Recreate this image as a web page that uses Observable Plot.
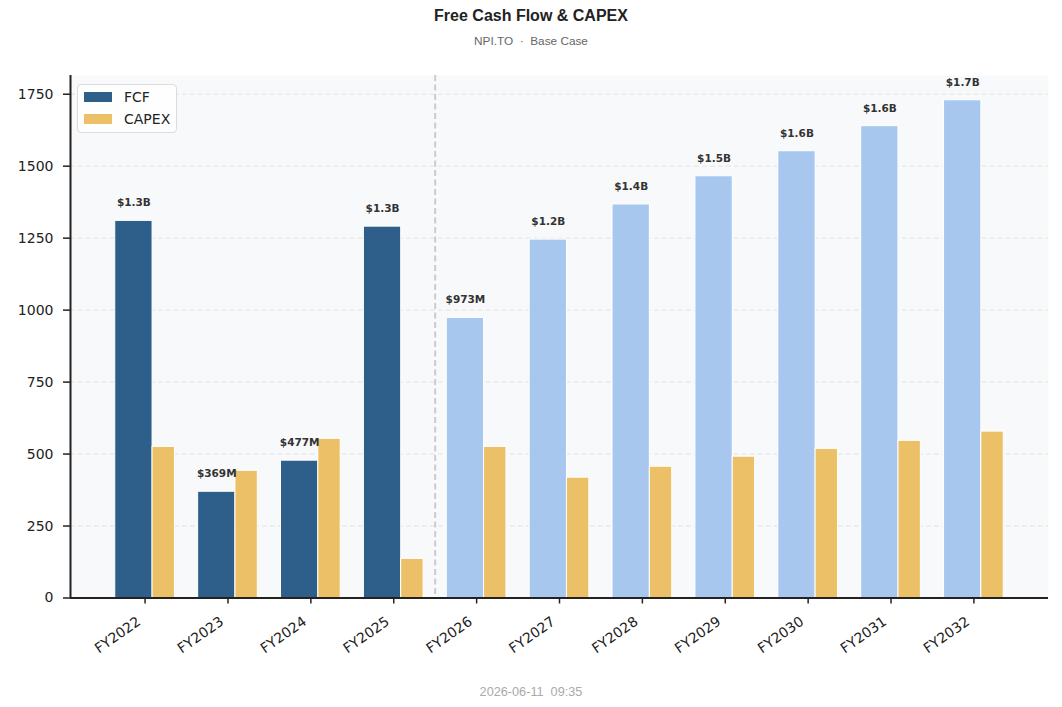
<!DOCTYPE html>
<html>
<head>
<meta charset="utf-8">
<script src="https://cdn.jsdelivr.net/npm/d3@7"></script>
<script src="https://cdn.jsdelivr.net/npm/@observablehq/plot@0.6"></script>
<style>
  html, body { margin: 0; padding: 0; background: #fff; }
  #wrap { position: relative; width: 1062px; height: 707px; overflow: hidden; }
  .title { position: absolute; left: 0; width: 1062px; text-align: center; top: 7px; font: bold 16px "Liberation Sans", Arial, sans-serif; color: #222; }
  .subtitle { position: absolute; left: 0; width: 1062px; text-align: center; top: 34px; font: 11.8px "Liberation Sans", Arial, sans-serif; color: #666; white-space: pre; }
  .footer { position: absolute; left: 0; width: 1062px; text-align: center; top: 685px; font: 12.7px "Liberation Sans", Arial, sans-serif; color: #aaa; white-space: pre; }
  #chart { position: absolute; left: 0; top: 60px; }
  #chart svg text { font-family: "DejaVu Sans", sans-serif !important; }
  #chart svg g[aria-label="y-axis tick"] path, #chart svg g[aria-label="x-axis tick"] path { stroke-width: 1.5px; stroke: #222; }
  .legend { position: absolute; left: 77px; top: 84px; width: 98px; height: 47px; background: rgba(255,255,255,0.85); border: 1.5px solid #dcdcdc; border-radius: 4px; font: 14px "DejaVu Sans", sans-serif; color: #222; }
  .legend .row { position: absolute; left: 6px; display: flex; align-items: center; }
  .legend .sw { width: 28px; height: 10px; margin-right: 12px; }
</style>
</head>
<body>
<div id="wrap">
  <div class="title">Free Cash Flow &amp; CAPEX</div>
  <div class="subtitle">NPI.TO  ·  Base Case</div>
  <div id="chart"></div>
  <div class="legend">
    <div class="row" style="top:4px"><div class="sw" style="background:#2d5f8a"></div><span>FCF</span></div>
    <div class="row" style="top:26px"><div class="sw" style="background:#ebc066"></div><span>CAPEX</span></div>
  </div>
  <div class="footer">2026-06-11  09:35</div>
</div>
<script>
const years = ["FY2022","FY2023","FY2024","FY2025","FY2026","FY2027","FY2028","FY2029","FY2030","FY2031","FY2032"];
const fcf = [1310, 369, 477, 1290, 973, 1245, 1367, 1465, 1552, 1639, 1729];
const capex = [525, 442, 553, 136, 525, 418, 456, 491, 518, 546, 578];
const forecast = [false, false, false, false, true, true, true, true, true, true, true];
const fcfLabels = ["$1.3B","$369M","$477M","$1.3B","$973M","$1.2B","$1.4B","$1.5B","$1.6B","$1.6B","$1.7B"];
const yTicks = [0, 250, 500, 750, 1000, 1250, 1500, 1750];

const data = years.map((y, i) => ({i, year: y, fcf: fcf[i], capex: capex[i], forecast: forecast[i], label: fcfLabels[i]}));

const xDomain = [-0.9, 10.9];
const yDomain = [0, 1815];

const chart = Plot.plot({
  width: 1062,
  height: 620,
  marginLeft: 70,
  marginRight: 14,
  marginTop: 15,
  marginBottom: 82.5,
  style: {fontFamily: "'DejaVu Sans', sans-serif", fontSize: "14px", color: "#222", background: "transparent"},
  x: {domain: xDomain, axis: null, label: null},
  y: {domain: yDomain, axis: null, label: null},
  marks: [
    Plot.frame({fill: "#f8f9fb", stroke: null}),
    Plot.gridY(yTicks, {stroke: "#e3e3e3", strokeOpacity: 1, strokeDasharray: "5,3", strokeWidth: 1}),
    Plot.ruleX([3.5], {stroke: "#cccccc", strokeWidth: 2, strokeDasharray: "6,3.5"}),
    Plot.rectY(data, {x1: d => d.i - 0.36, x2: d => d.i + 0.09, y1: 0, y2: "fcf",
      fill: d => d.forecast ? "#a7c7ef" : "#2d5f8a", stroke: "white", strokeWidth: 1}),
    Plot.rectY(data, {x1: d => d.i + 0.09, x2: d => d.i + 0.36, y1: 0, y2: "capex",
      fill: "#ebc066", stroke: "white", strokeWidth: 1}),
    Plot.text(data, {x: d => d.i - 0.135, y: "fcf", text: "label", dy: -18, fontWeight: "bold",
      fontSize: 10.5, fill: "#333", textAnchor: "middle", lineAnchor: "middle"}),
    Plot.axisY(yTicks, {anchor: "left", tickSize: 7, tickPadding: 10, fontSize: 14, color: "#222",
      tickFormat: d3.format("d"), label: null}),
    Plot.axisX(d3.range(years.length), {anchor: "bottom", tickSize: 6, text: null, color: "#222", label: null}),
    Plot.text(data, {x: "i", frameAnchor: "bottom", text: "year", rotate: -35, textAnchor: "end",
      lineAnchor: "middle", fontSize: 14, fill: "#222", dx: -6, dy: 22}),
    Plot.ruleX([xDomain[0]], {stroke: "#222", strokeWidth: 2}),
    Plot.ruleY([0], {stroke: "#222", strokeWidth: 2})
  ]
});
document.getElementById("chart").appendChild(chart);
</script>
</body>
</html>
